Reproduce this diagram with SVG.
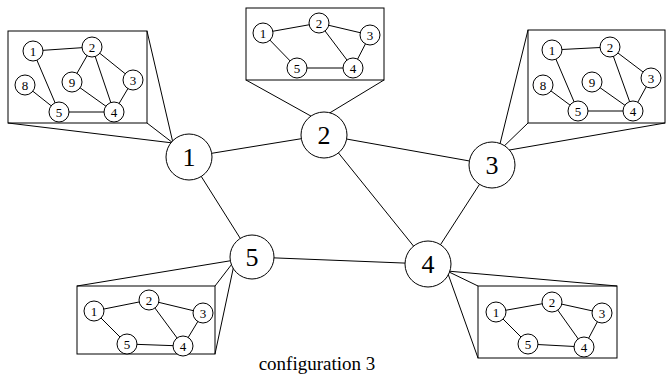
<svg xmlns="http://www.w3.org/2000/svg" width="667" height="376" viewBox="0 0 667 376">
<style>
  line, rect, polyline { stroke: #000; stroke-width: 1; fill: none; }
  circle { stroke: #000; stroke-width: 1; fill: #fff; }
  text { font-family: "Liberation Serif", "Times New Roman", serif; fill: #000; text-anchor: middle; }
  .big { font-size: 26px; }
  .sm { font-size: 13px; }
  .cap { font-size: 19px; }
</style>
<rect width="667" height="376" fill="#fff" style="stroke:none"/>

<!-- main connectors -->
<g id="connectors">
  <line x1="189" y1="157" x2="324" y2="135"/>
  <line x1="324" y1="135" x2="492" y2="165"/>
  <line x1="324" y1="135" x2="428" y2="264"/>
  <line x1="492" y1="165" x2="428" y2="264"/>
  <line x1="189" y1="157" x2="252" y2="257"/>
  <line x1="252" y1="257" x2="428" y2="264"/>
</g>

<!-- zoom callouts -->
<g id="callouts">
  <rect x="8" y="31" width="139" height="92"/>
  <line x1="8" y1="123" x2="173" y2="143"/>
  <line x1="147" y1="31" x2="173" y2="143"/>
  <line x1="147" y1="123" x2="173" y2="143"/>

  <rect x="246" y="8" width="138" height="72"/>
  <line x1="246" y1="80" x2="318" y2="120"/>
  <line x1="384" y1="80" x2="318" y2="120"/>

  <rect x="528" y="30" width="137" height="93"/>
  <line x1="528" y1="30" x2="498" y2="152"/>
  <line x1="528" y1="123" x2="498" y2="152"/>
  <line x1="665" y1="123" x2="498" y2="152"/>

  <rect x="77" y="286" width="138" height="68"/>
  <line x1="77" y1="286" x2="235" y2="260"/>
  <line x1="215" y1="286" x2="235" y2="260"/>
  <line x1="215" y1="354" x2="235" y2="260"/>

  <rect x="478" y="286" width="139" height="72"/>
  <line x1="617" y1="286" x2="447" y2="271"/>
  <line x1="478" y1="286" x2="447" y2="271"/>
  <line x1="478" y1="358" x2="447" y2="271"/>
</g>

<!-- main nodes -->
<g id="node1"><circle cx="189" cy="157" r="23"/><text class="big" x="189" y="166">1</text></g>
<g id="node2"><circle cx="324" cy="135" r="23"/><text class="big" x="324" y="144">2</text></g>
<g id="node3"><circle cx="492" cy="165" r="23"/><text class="big" x="492" y="174">3</text></g>
<g id="node4"><circle cx="428" cy="264" r="23"/><text class="big" x="428" y="273">4</text></g>
<g id="node5"><circle cx="252" cy="257" r="22"/><text class="big" x="252" y="266">5</text></g>

<!-- subgraph of node 1 -->
<g id="sub1">
  <line x1="33" y1="51" x2="92" y2="47"/>
  <line x1="33" y1="51" x2="59" y2="112"/>
  <line x1="25" y1="85" x2="59" y2="112"/>
  <line x1="92" y1="47" x2="72" y2="82"/>
  <line x1="92" y1="47" x2="114" y2="112"/>
  <line x1="92" y1="47" x2="133" y2="80"/>
  <line x1="72" y1="82" x2="114" y2="112"/>
  <line x1="133" y1="80" x2="114" y2="112"/>
  <line x1="59" y1="112" x2="114" y2="112"/>
  <circle cx="33" cy="51" r="10"/><text class="sm" x="33" y="55.5">1</text>
  <circle cx="92" cy="47" r="10"/><text class="sm" x="92" y="51.5">2</text>
  <circle cx="133" cy="80" r="10"/><text class="sm" x="133" y="84.5">3</text>
  <circle cx="25" cy="85" r="10"/><text class="sm" x="25" y="89.5">8</text>
  <circle cx="72" cy="82" r="10"/><text class="sm" x="72" y="86.5">9</text>
  <circle cx="59" cy="112" r="10"/><text class="sm" x="59" y="116.5">5</text>
  <circle cx="114" cy="112" r="10"/><text class="sm" x="114" y="116.5">4</text>
</g>

<!-- subgraph of node 2 -->
<g id="sub2">
  <line x1="263" y1="33" x2="319" y2="23"/>
  <line x1="263" y1="33" x2="297" y2="68"/>
  <line x1="319" y1="23" x2="370" y2="35"/>
  <line x1="319" y1="23" x2="353" y2="68"/>
  <line x1="370" y1="35" x2="353" y2="68"/>
  <line x1="297" y1="68" x2="353" y2="68"/>
  <circle cx="263" cy="33" r="10"/><text class="sm" x="263" y="37.5">1</text>
  <circle cx="319" cy="23" r="10"/><text class="sm" x="319" y="27.5">2</text>
  <circle cx="370" cy="35" r="10"/><text class="sm" x="370" y="39.5">3</text>
  <circle cx="297" cy="68" r="10"/><text class="sm" x="297" y="72.5">5</text>
  <circle cx="353" cy="68" r="10"/><text class="sm" x="353" y="72.5">4</text>
</g>

<!-- subgraph of node 3 -->
<g id="sub3">
  <line x1="552" y1="50" x2="610" y2="47"/>
  <line x1="552" y1="50" x2="578" y2="111"/>
  <line x1="543" y1="85" x2="578" y2="111"/>
  <line x1="592" y1="82" x2="633" y2="111"/>
  <line x1="610" y1="47" x2="633" y2="111"/>
  <line x1="610" y1="47" x2="651" y2="78"/>
  <line x1="651" y1="78" x2="633" y2="111"/>
  <line x1="578" y1="111" x2="633" y2="111"/>
  <circle cx="552" cy="50" r="10"/><text class="sm" x="552" y="54.5">1</text>
  <circle cx="610" cy="47" r="10"/><text class="sm" x="610" y="51.5">2</text>
  <circle cx="651" cy="78" r="10"/><text class="sm" x="651" y="82.5">3</text>
  <circle cx="543" cy="85" r="10"/><text class="sm" x="543" y="89.5">8</text>
  <circle cx="592" cy="82" r="10"/><text class="sm" x="592" y="86.5">9</text>
  <circle cx="578" cy="111" r="10"/><text class="sm" x="578" y="115.5">5</text>
  <circle cx="633" cy="111" r="10"/><text class="sm" x="633" y="115.5">4</text>
</g>

<!-- subgraph of node 5 -->
<g id="sub5">
  <line x1="94" y1="311" x2="149" y2="300"/>
  <line x1="94" y1="311" x2="127" y2="344"/>
  <line x1="149" y1="300" x2="203" y2="313"/>
  <line x1="149" y1="300" x2="183" y2="346"/>
  <line x1="203" y1="313" x2="183" y2="346"/>
  <line x1="127" y1="344" x2="183" y2="346"/>
  <circle cx="94" cy="311" r="10"/><text class="sm" x="94" y="315.5">1</text>
  <circle cx="149" cy="300" r="10"/><text class="sm" x="149" y="304.5">2</text>
  <circle cx="203" cy="313" r="10"/><text class="sm" x="203" y="317.5">3</text>
  <circle cx="127" cy="344" r="10"/><text class="sm" x="127" y="348.5">5</text>
  <circle cx="183" cy="346" r="10"/><text class="sm" x="183" y="350.5">4</text>
</g>

<!-- subgraph of node 4 -->
<g id="sub4">
  <line x1="496" y1="312" x2="552" y2="302"/>
  <line x1="496" y1="312" x2="528" y2="344"/>
  <line x1="552" y1="302" x2="602" y2="313"/>
  <line x1="552" y1="302" x2="584" y2="347"/>
  <line x1="602" y1="313" x2="584" y2="347"/>
  <line x1="528" y1="344" x2="584" y2="347"/>
  <circle cx="496" cy="312" r="10"/><text class="sm" x="496" y="316.5">1</text>
  <circle cx="552" cy="302" r="10"/><text class="sm" x="552" y="306.5">2</text>
  <circle cx="602" cy="313" r="10"/><text class="sm" x="602" y="317.5">3</text>
  <circle cx="528" cy="344" r="10"/><text class="sm" x="528" y="348.5">5</text>
  <circle cx="584" cy="347" r="10"/><text class="sm" x="584" y="351.5">4</text>
</g>

<text class="cap" x="317" y="370">configuration 3</text>
</svg>
